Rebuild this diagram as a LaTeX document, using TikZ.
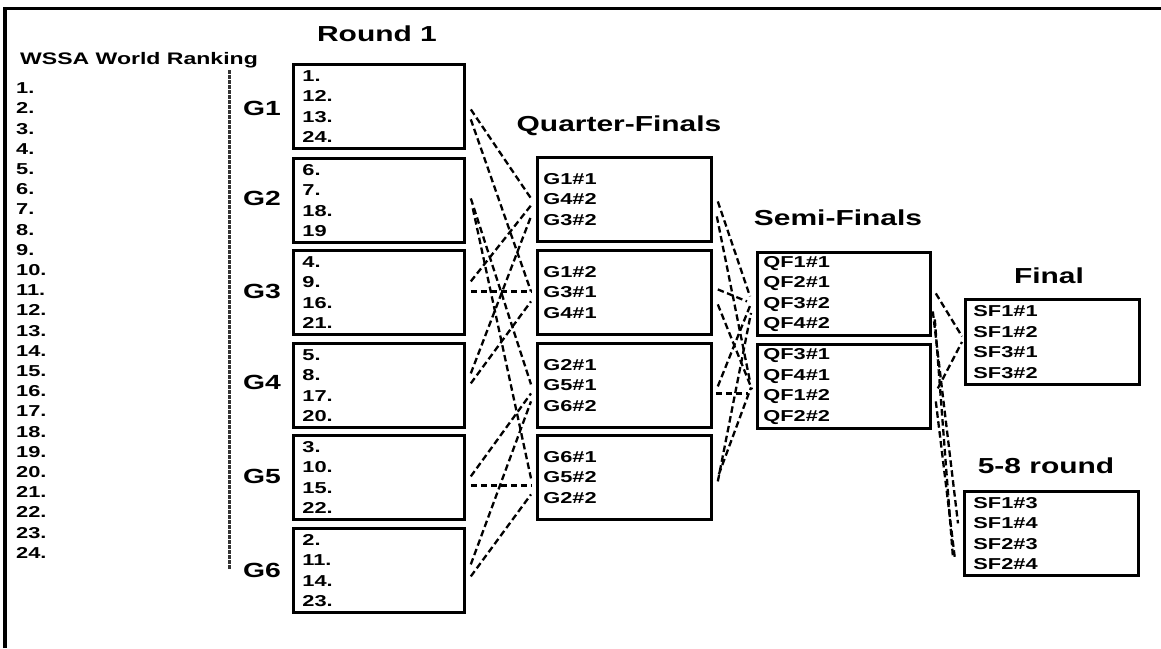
\documentclass[tikz,border=0pt]{standalone}
\usepackage{fontspec}
\setmainfont{Liberation Sans}[FakeStretch=1.38]
\usetikzlibrary{calc}
\begin{document}
\begin{tikzpicture}[x=1pt,y=-1pt,
  every node/.style={inner sep=0pt},
  boxtxt/.style={font=\bfseries\fontsize{15.8}{20.5}\selectfont},
  heading/.style={anchor=base, font=\bfseries\fontsize{21.7}{26}\selectfont},
  grp/.style={anchor=base, font=\bfseries\fontsize{20.5}{24}\selectfont},
  box/.style={draw, line width=2.8pt, anchor=north west, align=left, boxtxt,
              inner ysep=0pt, minimum height=84pt},
  link/.style={line width=2.3pt, dash pattern=on 6.5pt off 3.5pt},
  sepline/.style={line width=3pt, black!80, dash pattern=on 3.5pt off 1.5pt},
]
\useasboundingbox (0,0) rectangle (1161,648);

% frame
\draw[line width=3.2pt] (5,648) -- (5,8.5) -- (1161,8.5);

% ranking list
\node[anchor=base, font=\bfseries\fontsize{16.7}{20}\selectfont] (rankhead) at (139,64.5) {WSSA World Ranking};
\foreach \i in {1,...,24} {
  \node[boxtxt, anchor=base west] (rk\i) at (16,{93.65+(\i-1)*20.2}) {\i.};
}
\draw[sepline] (229,70) -- (229,570);

% round 1
\node[heading] (r1head) at (377,41.5) {Round 1};
\foreach \g/\y in {1/115,2/205,3/298,4/389,5/483,6/577} {
  \node[grp] (g\g) at (262,\y) {G\g};
}
\begin{scope}[every node/.append style={box, inner xsep=9pt, text width=153pt, minimum width=171pt}]
  \node (r1) at (292,63)  {1.\\12.\\13.\\24.};
  \node (r2) at (292,157) {6.\\7.\\18.\\19};
  \node (r3) at (292,249) {4.\\9.\\16.\\21.};
  \node (r4) at (292,342) {5.\\8.\\17.\\20.};
  \node (r5) at (292,434) {3.\\10.\\15.\\22.};
  \node (r6) at (292,527) {2.\\11.\\14.\\23.};
\end{scope}

% quarter-finals
\node[heading] (qhead) at (619,131) {Quarter-Finals};
\begin{scope}[every node/.append style={box, inner xsep=6pt, text width=162pt, minimum width=174pt}]
  \node (q1) at (536,156) {G1\#1\\G4\#2\\G3\#2};
  \node (q2) at (536,249) {G1\#2\\G3\#1\\G4\#1};
  \node (q3) at (536,342) {G2\#1\\G5\#1\\G6\#2};
  \node (q4) at (536,434) {G6\#1\\G5\#2\\G2\#2};
\end{scope}

% semi-finals
\node[heading] (shead) at (838,225) {Semi-Finals};
\begin{scope}[every node/.append style={box, inner xsep=6pt, text width=161pt, minimum width=173pt}]
  \node[minimum height=83pt] (s1) at (756,251) {QF1\#1\\QF2\#1\\QF3\#2\\QF4\#2};
  \node (s2) at (756,343) {QF3\#1\\QF4\#1\\QF1\#2\\QF2\#2};
\end{scope}

% final and 5-8 round
\node[heading] (fhead) at (1049,283) {Final};
\node[box, inner xsep=8pt, text width=158pt, minimum width=174pt, minimum height=85pt] (fin) at (964,298)
  {SF1\#1\\SF1\#2\\SF3\#1\\SF3\#2};
\node[heading] (ehead) at (1046,473) {5-8 round};
\node[box, inner xsep=9pt, text width=156pt, minimum width=174pt] (pl) at (963,490)
  {SF1\#3\\SF1\#4\\SF2\#3\\SF2\#4};

% round 1 -> quarter-finals
\draw[link] ($(r1.east)+(5,3)$)   -- ($(q1.west)+(-5,-1)$);
\draw[link] ($(r1.east)+(5,13)$)  -- ($(q2.west)+(-5,-1)$);
\draw[link] ($(r2.east)+(5,-2)$)  -- ($(q3.west)+(-5,-1)$);
\draw[link] ($(r2.east)+(7,8)$)   -- ($(q4.west)+(-5,1)$);
\draw[link] ($(r3.east)+(5,-11)$) -- ($(q1.west)+(-5,6)$);
\draw[link] ($(r3.east)+(5,-1)$)  -- ($(q2.west)+(-5,-1)$);
\draw[link] ($(r4.east)+(5,-12)$) -- ($(q1.west)+(-5,17)$);
\draw[link] ($(r4.east)+(5,-2)$)  -- ($(q2.west)+(-5,9)$);
\draw[link] ($(r5.east)+(5,-1)$)  -- ($(q3.west)+(-5,8)$);
\draw[link] ($(r5.east)+(5,8)$)   -- ($(q4.west)+(-5,8)$);
\draw[link] ($(r6.east)+(5,-6)$)  -- ($(q3.west)+(-5,16)$);
\draw[link] ($(r6.east)+(5,6)$)   -- ($(q4.west)+(-5,17)$);

% quarter-finals -> semi-finals
\draw[link] ($(q1.east)+(5,2)$)   -- ($(s1.west)+(-6,2.5)$);
\draw[link] ($(q1.east)+(4,17)$)  -- ($(s2.west)+(-6,-5)$);
\draw[link] ($(q2.east)+(5,-3)$)  -- ($(s1.west)+(-9,7.5)$);
\draw[link] ($(q2.east)+(5,12)$)  -- ($(s2.west)+(-4,3)$);
\draw[link] ($(q3.east)+(5,1)$)   -- ($(s1.west)+(-6,12)$);
\draw[link] ($(q3.east)+(3,8)$)   -- ($(s2.west)+(-8,7)$);
\draw[link] ($(q4.east)+(5,4)$)   -- ($(s1.west)+(-5,19)$);
\draw[link] ($(q4.east)+(6,-3)$)  -- ($(s2.west)+(-5,1)$);

% semi-finals -> final / 5-8 round
\draw[link] ($(s1.east)+(4,-0.5)$) -- ($(fin.west)+(-2,-5.5)$);
\draw[link] ($(s2.east)+(6,2)$)    -- ($(fin.west)+(-2,0)$);
\draw[link] ($(s1.east)+(1,17.5)$) -- ($(pl.west)+(-5,-10)$);
\draw[link] ($(s1.east)+(3,25.5)$) -- ($(pl.west)+(-10,25)$);
\draw[link] ($(s2.east)+(4,15)$)   -- ($(pl.west)+(-8,26)$);
\end{tikzpicture}
\end{document}
